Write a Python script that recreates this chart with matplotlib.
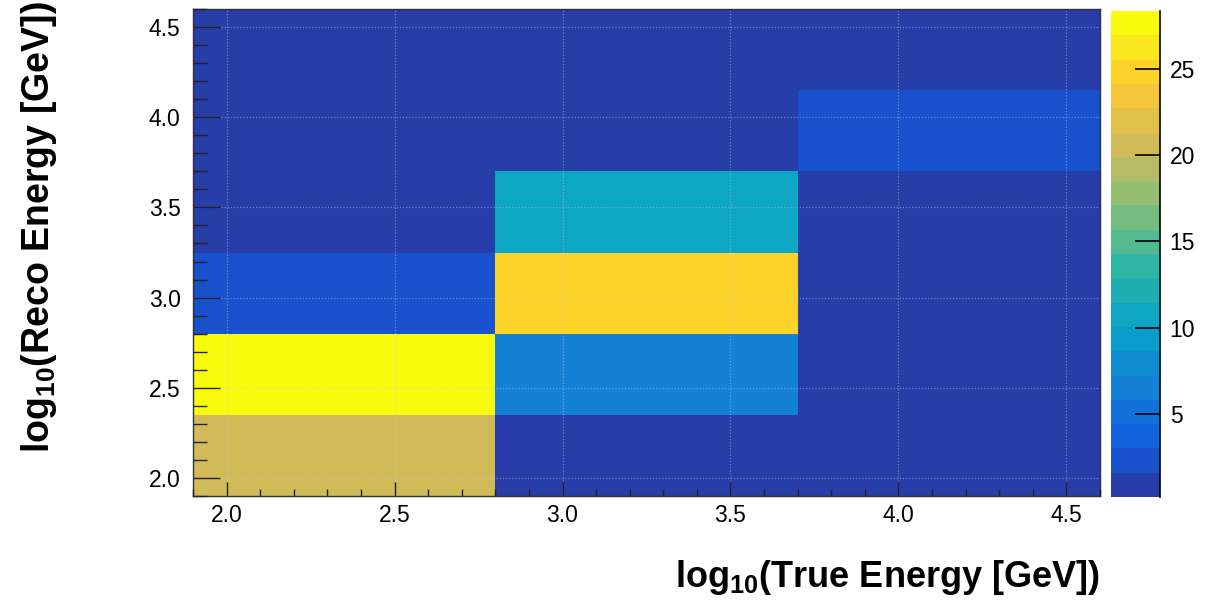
import numpy as np
import matplotlib
matplotlib.use("Agg")
import matplotlib.pyplot as plt
from matplotlib.colors import ListedColormap, BoundaryNorm
from matplotlib.ticker import MultipleLocator, FormatStrFormatter

# ---------------- data ----------------
x_edges = [1.9, 2.8, 3.7, 4.6]
y_edges = [1.9, 2.35, 2.8, 3.25, 3.7, 4.15, 4.6]
# counts per true-energy bin (columns), listed from lowest reco bin upwards
counts_x0 = [20.5, 28.37, 2.3, 0.0, 0.0, 0.0]
counts_x1 = [0.0, 6.5, 25.0, 10.7, 0.0, 0.0]
counts_x2 = [0.0, 0.0, 0.0, 0.0, 2.4, 0.0]
z_min, z_max = 0.17, 28.37
x_title = r"log$_{\mathrm{10}}$(True Energy [GeV])"
y_title = r"log$_{\mathrm{10}}$(Reco Energy [GeV])"
cbar_ticks = [5, 10, 15, 20, 25]

# ---------------- ROOT kBird palette, 20 contours ----------------
stops = [0.0, 0.125, 0.25, 0.375, 0.5, 0.625, 0.75, 0.875, 1.0]
red = [0.2082, 0.0592, 0.0780, 0.0232, 0.1802, 0.5301, 0.8186, 0.9956, 0.9764]
green = [0.1664, 0.3599, 0.5041, 0.6419, 0.7178, 0.7492, 0.7328, 0.7862, 0.9832]
blue = [0.5293, 0.8684, 0.8385, 0.7914, 0.6425, 0.4662, 0.3499, 0.1968, 0.0539]
ncol, ndiv = 255, 20
cols = []
for i in range(ndiv):
    idx = int((i + 0.99) * ncol / ndiv)
    p = idx / (ncol - 1)
    cols.append((np.interp(p, stops, red), np.interp(p, stops, green), np.interp(p, stops, blue)))
cmap = ListedColormap(cols)
bounds = np.linspace(z_min, z_max, ndiv + 1)
norm = BoundaryNorm(bounds, ndiv, clip=True)

plt.rcParams['font.family'] = ['Liberation Sans', 'DejaVu Sans']
plt.rcParams['mathtext.fontset'] = 'custom'
plt.rcParams['mathtext.rm'] = 'Liberation Sans:bold'
plt.rcParams['mathtext.bf'] = 'Liberation Sans:bold'
plt.rcParams['mathtext.it'] = 'Liberation Sans:bold'

W, H = 1207, 606
fig = plt.figure(figsize=(W / 100, H / 100), dpi=100)

def rect(l, t, r, b):
    return [l / W, 1 - b / H, (r - l) / W, (b - t) / H]

ax = fig.add_axes(rect(193, 9, 1100, 496))
Z = np.array([counts_x0, counts_x1, counts_x2]).T
Zc = np.clip(Z, z_min, None)
mesh = ax.pcolormesh(x_edges, y_edges, Zc, cmap=cmap, norm=norm, shading='flat')
ax.set_xlim(x_edges[0], x_edges[-1])
ax.set_ylim(y_edges[0], y_edges[-1])

ax.xaxis.set_major_locator(MultipleLocator(0.5))
ax.xaxis.set_minor_locator(MultipleLocator(0.1))
ax.yaxis.set_major_locator(MultipleLocator(0.5))
ax.yaxis.set_minor_locator(MultipleLocator(0.1))
ax.xaxis.set_major_formatter(FormatStrFormatter('%.1f'))
ax.yaxis.set_major_formatter(FormatStrFormatter('%.1f'))
ax.tick_params(axis='x', which='major', direction='in', length=10, width=1, labelsize=16.5, pad=6, color='#222222')
ax.tick_params(axis='x', which='minor', direction='in', length=5, width=1, color='#222222')
ax.tick_params(axis='y', which='major', direction='in', length=19.5, width=1, labelsize=16.5, pad=9, color='#222222')
ax.tick_params(axis='y', which='minor', direction='in', length=10, width=1, color='#222222')
ax.grid(True, which='major', color='#c8c8d8', alpha=0.5, linestyle=(0, (1, 1.5)), linewidth=0.9)
ax.set_axisbelow(False)
for s in ax.spines.values():
    s.set_linewidth(1)
    s.set_color('#333333')

# colour bar
cax = fig.add_axes(rect(1111, 11, 1160, 497))
cb = fig.colorbar(mesh, cax=cax, ticks=cbar_ticks, drawedges=False)
cb.outline.set_visible(False)
cax.spines['right'].set_visible(True)
cax.spines['right'].set_linewidth(1.2)
cax.tick_params(axis='y', which='both', direction='in', length=18, width=1.2, labelsize=16.5, pad=7, right=True, left=False)
cax.minorticks_off()

# axis titles
fig.text(1100 / W, 1 - 587 / H, x_title, ha='right', va='baseline', fontsize=26, fontweight='bold')
fig.text(49 / W, 1 - 1 / H, y_title, ha='right', va='baseline', rotation=90,
         rotation_mode='anchor', fontsize=27, fontweight='bold')

fig.savefig('out.png', dpi=100)
